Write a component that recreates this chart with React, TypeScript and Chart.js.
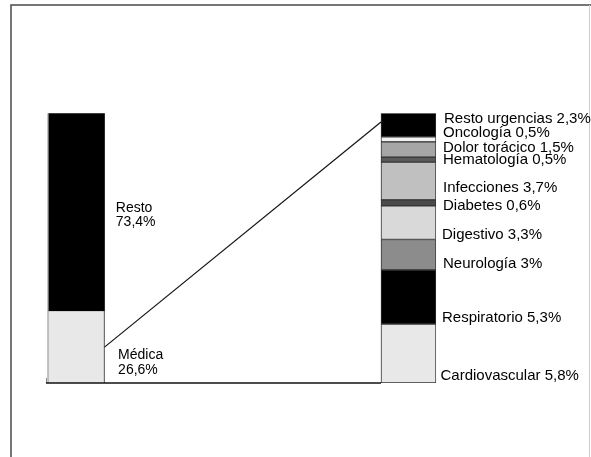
import React, { useEffect, useRef } from "react";
import { Chart, registerables } from "chart.js";

Chart.register(...registerables);

// ---- data ----
const overviewLabels = ["Médica", "Resto"];
const overviewValues = [26.6, 73.4];
const overviewColors = ["#e8e8e8", "#000000"];

const medicalLabels = [
  "Cardiovascular",
  "Respiratorio",
  "Neurología",
  "Digestivo",
  "Diabetes",
  "Infecciones",
  "Hematología",
  "Dolor torácico",
  "Oncología",
  "Resto urgencias",
];
const medicalValues = [5.8, 5.3, 3, 3.3, 0.6, 3.7, 0.5, 1.5, 0.5, 2.3];
const medicalColors = [
  "#e8e8e8",
  "#000000",
  "#8c8c8c",
  "#d9d9d9",
  "#4a4a4a",
  "#c0c0c0",
  "#5a5a5a",
  "#a6a6a6",
  "#f2f2f2",
  "#000000",
];

const barSlots = [0, 6]; // x slot of overview bar and of detail bar

// ---- label layout tweaks (px, relative to segment centre / bar edge) ----
const overviewLabelShift = [
  [13.6, 12],
  [11.3, -0.3],
];
const medicalLabelShift = [
  [4.5, 26.5],
  [6, 24.7],
  [7, 13.5],
  [6, 16.6],
  [7, 7],
  [7, 10.7],
  [7, 4.7],
  [7, 2.8],
  [7, -2.3],
  [8, -1.7],
];

const fmt = (v: number) => String(v).replace(".", ",") + "%";
const FAMILY = "'Liberation Sans', Arial, sans-serif";

const barOfBarPlugin = {
  id: "barOfBar",
  beforeDraw(chart: any) {
    const ctx = chart.ctx;
    const W = chart.width;
    const H = chart.height;
    ctx.save();
    ctx.fillStyle = "#ffffff";
    ctx.fillRect(0, 0, W, H);
    ctx.strokeStyle = "#4a4a4a";
    ctx.lineWidth = 1.5;
    ctx.beginPath();
    ctx.moveTo(11, H);
    ctx.lineTo(11, 5);
    ctx.lineTo(W, 5);
    ctx.stroke();
    ctx.strokeStyle = "#cfcfcf";
    ctx.lineWidth = 1;
    ctx.beginPath();
    ctx.moveTo(589.5, 5);
    ctx.lineTo(589.5, H);
    ctx.stroke();
    ctx.restore();
  },
  afterDatasetsDraw(chart: any) {
    const ctx = chart.ctx;
    const yL = chart.scales.y;
    const yR = chart.scales.y2;
    const nO = overviewValues.length;

    const oEls = overviewValues.map((_, i) => chart.getDatasetMeta(i).data[0]);
    const mEls = medicalValues.map((_, i) => chart.getDatasetMeta(nO + i).data[0]);

    const oLeft = oEls[0].x - oEls[0].width / 2;
    const oRight = oEls[0].x + oEls[0].width / 2;
    const mLeft = mEls[0].x - mEls[0].width / 2;
    const mRight = mEls[0].x + mEls[0].width / 2;
    const bottom = yL.getPixelForValue(0);
    const top = yL.getPixelForValue(100);
    const total = medicalValues.reduce((a, b) => a + b, 0);

    ctx.save();
    // left axis line (gray) along overview bar
    ctx.strokeStyle = "#8a8a8a";
    ctx.lineWidth = 1;
    ctx.beginPath();
    ctx.moveTo(oLeft + 0.5, top);
    ctx.lineTo(oLeft + 0.5, bottom);
    ctx.moveTo(oLeft - 1, bottom - 5);
    ctx.lineTo(oLeft - 1, bottom);
    ctx.stroke();

    // connectors
    ctx.strokeStyle = "#111111";
    ctx.lineWidth = 1.2;
    ctx.beginPath();
    ctx.moveTo(oRight, yL.getPixelForValue(overviewValues[0] / 2));
    ctx.lineTo(mLeft, yR.getPixelForValue(total * 0.968));
    ctx.stroke();
    ctx.lineWidth = 1.7;
    ctx.beginPath();
    ctx.moveTo(oLeft - 1.5, bottom);
    ctx.lineTo(mLeft, bottom);
    ctx.stroke();

    // labels
    ctx.fillStyle = "#000000";
    ctx.textBaseline = "alphabetic";
    ctx.textAlign = "left";
    const drawText = (t: string, x: number, y: number, size: number) => {
      ctx.font = `${size}px ${FAMILY}`;
      ctx.fillText(t, x, y);
    };
    oEls.forEach((el: any, i: number) => {
      const cy = (el.y + el.base) / 2;
      const [dx, dy] = overviewLabelShift[i];
      drawText(overviewLabels[i], oRight + dx, cy + dy, 14);
      drawText(fmt(overviewValues[i]), oRight + dx, cy + dy + 14.5, 14);
    });
    mEls.forEach((el: any, i: number) => {
      const cy = (el.y + el.base) / 2;
      const [dx, dy] = medicalLabelShift[i];
      drawText(medicalLabels[i] + " " + fmt(medicalValues[i]), mRight + dx, cy + dy, 15);
    });
    ctx.restore();
  },
};

export default function App() {
  const ref = useRef<HTMLCanvasElement | null>(null);

  useEffect(() => {
    if (!ref.current) return;
    const total = medicalValues.reduce((a, b) => a + b, 0);
    const datasets: any[] = [
      ...overviewValues.map((v, i) => ({
        label: overviewLabels[i],
        data: [{ x: barSlots[0], y: v }],
        backgroundColor: overviewColors[i],
        borderColor: "#333333",
        borderWidth: i === 0 ? { top: 0, right: 1, bottom: 0, left: 0 } : 0,
        borderSkipped: false,
        barThickness: 57,
        grouped: false,
        yAxisID: "y",
      })),
      ...medicalValues.map((v, i) => ({
        label: medicalLabels[i],
        data: [{ x: barSlots[1], y: v }],
        backgroundColor: medicalColors[i],
        borderColor: "#333333",
        borderWidth: 1,
        borderSkipped: false,
        barThickness: 55,
        grouped: false,
        yAxisID: "y2",
      })),
    ];
    const chart = new Chart(ref.current, {
      type: "bar",
      data: { datasets },
      options: {
        animation: false,
        responsive: false,
        layout: { padding: { left: 48.3, right: 154.8, top: 113.3, bottom: 74 } },
        plugins: { legend: { display: false }, tooltip: { enabled: false } },
        scales: {
          x: { type: "linear", min: -0.5, max: 6.5, display: false, stacked: true, offset: false },
          y: { min: 0, max: 100, display: false, stacked: true },
          y2: { min: 0, max: total, display: false, stacked: true },
        },
      } as any,
      plugins: [barOfBarPlugin as any],
    });
    return () => chart.destroy();
  }, []);

  return (
    <div style={{ position: "absolute", left: 0, top: 0, width: 591, height: 457, overflow: "hidden" }}>
      <canvas ref={ref} width={591} height={457} style={{ width: 591, height: 457 }} />
    </div>
  );
}
